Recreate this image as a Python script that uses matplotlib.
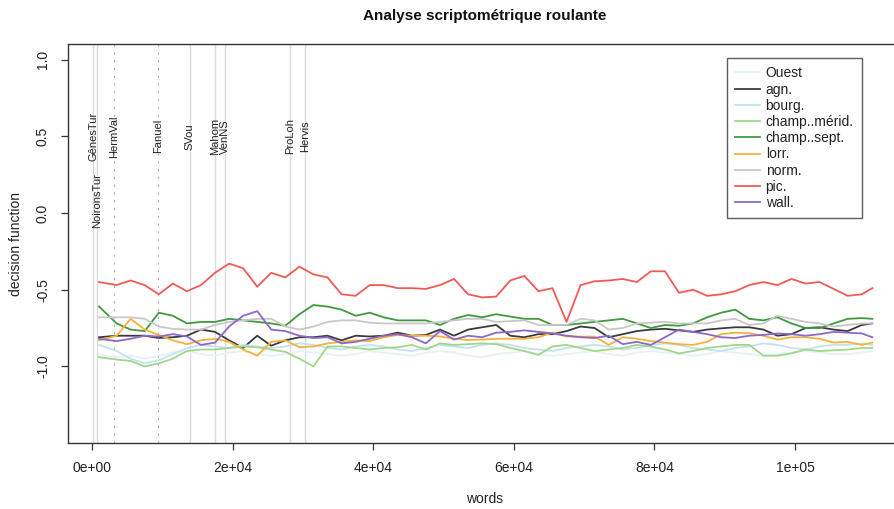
import matplotlib
matplotlib.use("Agg")
import matplotlib.pyplot as plt

plt.rcParams['font.family'] = ['Liberation Sans', 'DejaVu Sans']

words = [1000, 3500, 5500, 7500, 9500, 11500, 13500, 15500, 17500, 19500,
         21500, 23500, 25500, 27500, 29500, 31500, 33500, 35500, 37500, 39500,
         41500, 43500, 45500, 47500, 49500, 51500, 53500, 55500, 57500, 59500,
         61500, 63500, 65500, 67500, 69500, 71500, 73500, 75500, 77500, 79500,
         81500, 83500, 85500, 87500, 89500, 91500, 93500, 95500, 97500, 99500,
         101500, 103500, 105500, 107500, 109500, 111000]

ouest = [-0.92, -0.94, -0.93, -0.95, -0.93, -0.91, -0.90, -0.92, -0.93, -0.91,
         -0.90, -0.92, -0.93, -0.92, -0.90, -0.91, -0.92, -0.93, -0.92, -0.90,
         -0.91, -0.92, -0.93, -0.91, -0.90, -0.91, -0.93, -0.94, -0.92, -0.91,
         -0.90, -0.92, -0.93, -0.92, -0.91, -0.90, -0.92, -0.93, -0.91, -0.90,
         -0.91, -0.92, -0.93, -0.92, -0.90, -0.91, -0.92, -0.93, -0.92, -0.91,
         -0.90, -0.91, -0.92, -0.92, -0.91, -0.90]
agn = [-0.81, -0.80, -0.80, -0.80, -0.815, -0.81, -0.80, -0.76, -0.775, -0.83,
       -0.88, -0.80, -0.865, -0.83, -0.81, -0.81, -0.80, -0.83, -0.80, -0.805,
       -0.80, -0.78, -0.80, -0.795, -0.76, -0.80, -0.76, -0.745, -0.73, -0.80,
       -0.81, -0.79, -0.79, -0.77, -0.74, -0.75, -0.81, -0.79, -0.77, -0.76,
       -0.755, -0.765, -0.775, -0.76, -0.752, -0.745, -0.745, -0.76, -0.80, -0.79,
       -0.75, -0.745, -0.76, -0.77, -0.73, -0.72]
bourg = [-0.86, -0.90, -0.95, -0.98, -0.96, -0.92, -0.88, -0.86, -0.87, -0.88,
         -0.86, -0.87, -0.88, -0.87, -0.85, -0.86, -0.88, -0.89, -0.87, -0.86,
         -0.87, -0.89, -0.90, -0.88, -0.86, -0.87, -0.88, -0.86, -0.85, -0.86,
         -0.88, -0.89, -0.90, -0.88, -0.87, -0.86, -0.87, -0.89, -0.88, -0.86,
         -0.85, -0.86, -0.88, -0.89, -0.90, -0.88, -0.87, -0.85, -0.86, -0.88,
         -0.89, -0.87, -0.86, -0.86, -0.85, -0.86]
champ_merid = [-0.94, -0.955, -0.965, -1.0, -0.98, -0.95, -0.90, -0.89, -0.89, -0.88,
               -0.87, -0.875, -0.89, -0.905, -0.95, -1.0, -0.87, -0.87, -0.88, -0.89,
               -0.88, -0.875, -0.86, -0.89, -0.85, -0.86, -0.855, -0.85, -0.855, -0.88,
               -0.90, -0.925, -0.87, -0.86, -0.88, -0.90, -0.89, -0.88, -0.86, -0.87,
               -0.89, -0.915, -0.90, -0.88, -0.87, -0.86, -0.86, -0.93, -0.93, -0.915,
               -0.89, -0.90, -0.895, -0.89, -0.88, -0.88]
champ_sept = [-0.61, -0.72, -0.76, -0.77, -0.65, -0.67, -0.72, -0.71, -0.71, -0.69,
              -0.70, -0.71, -0.72, -0.735, -0.66, -0.60, -0.61, -0.63, -0.67, -0.65,
              -0.68, -0.70, -0.70, -0.70, -0.73, -0.69, -0.665, -0.68, -0.66, -0.675,
              -0.69, -0.69, -0.73, -0.73, -0.72, -0.71, -0.70, -0.69, -0.72, -0.75,
              -0.73, -0.735, -0.72, -0.68, -0.65, -0.63, -0.69, -0.70, -0.68, -0.72,
              -0.75, -0.75, -0.72, -0.69, -0.685, -0.69]
lorr = [-0.83, -0.80, -0.69, -0.76, -0.795, -0.83, -0.855, -0.83, -0.82, -0.84,
        -0.89, -0.93, -0.84, -0.83, -0.875, -0.87, -0.85, -0.84, -0.83, -0.835,
        -0.81, -0.795, -0.80, -0.80, -0.805, -0.82, -0.828, -0.825, -0.82, -0.82,
        -0.82, -0.81, -0.78, -0.805, -0.806, -0.806, -0.86, -0.81, -0.82, -0.835,
        -0.845, -0.855, -0.86, -0.84, -0.79, -0.78, -0.784, -0.80, -0.825, -0.81,
        -0.81, -0.82, -0.845, -0.84, -0.86, -0.845]
norm = [-0.68, -0.68, -0.68, -0.69, -0.74, -0.755, -0.76, -0.76, -0.73, -0.71,
        -0.70, -0.69, -0.69, -0.74, -0.76, -0.74, -0.71, -0.70, -0.70, -0.715,
        -0.72, -0.72, -0.72, -0.72, -0.71, -0.70, -0.69, -0.69, -0.71, -0.705,
        -0.70, -0.73, -0.73, -0.73, -0.69, -0.70, -0.76, -0.75, -0.72, -0.715,
        -0.71, -0.72, -0.72, -0.72, -0.70, -0.69, -0.73, -0.72, -0.67, -0.69,
        -0.71, -0.72, -0.74, -0.73, -0.72, -0.72]
pic = [-0.45, -0.47, -0.44, -0.47, -0.53, -0.46, -0.51, -0.47, -0.39, -0.33,
       -0.36, -0.48, -0.39, -0.42, -0.35, -0.40, -0.42, -0.53, -0.54, -0.47,
       -0.47, -0.49, -0.49, -0.495, -0.47, -0.43, -0.53, -0.55, -0.545, -0.44,
       -0.41, -0.51, -0.49, -0.71, -0.47, -0.445, -0.44, -0.43, -0.45, -0.38,
       -0.38, -0.52, -0.50, -0.54, -0.53, -0.51, -0.47, -0.45, -0.47, -0.43,
       -0.46, -0.45, -0.495, -0.54, -0.53, -0.49]
wall = [-0.82, -0.835, -0.82, -0.80, -0.805, -0.79, -0.805, -0.86, -0.845, -0.74,
        -0.67, -0.64, -0.76, -0.77, -0.80, -0.815, -0.81, -0.85, -0.84, -0.82,
        -0.80, -0.79, -0.81, -0.85, -0.77, -0.825, -0.80, -0.81, -0.78, -0.775,
        -0.765, -0.775, -0.785, -0.80, -0.81, -0.815, -0.80, -0.855, -0.84, -0.86,
        -0.81, -0.76, -0.775, -0.79, -0.81, -0.815, -0.80, -0.795, -0.785, -0.79,
        -0.80, -0.79, -0.775, -0.78, -0.785, -0.81]

series_names = ["Ouest", "agn.", "bourg.", "champ..mérid.", "champ..sept.",
                "lorr.", "norm.", "pic.", "wall."]
series_values = [ouest, agn, bourg, champ_merid, champ_sept, lorr, norm, pic, wall]
series_colors = ["#e6f2f8", "#3a3a3a", "#c4e2ee", "#9fd88a", "#3f9a3f",
                 "#f4b23c", "#c8c8c8", "#f25a55", "#8c68c8"]

marker_names = ["GênesTur", "NoironsTur", "HermVal", "Fanuel", "SVou",
                "Mahom", "VenNS", "ProLoh", "Hervis"]
marker_words = [200, 750, 3200, 9400, 13900, 17500, 18900, 28200, 30300]
marker_label_y = [0.5, 0.08, 0.5, 0.5, 0.5, 0.5, 0.5, 0.5, 0.5]
marker_dotted = [False, False, True, True, False, False, False, False, False]

xticks = [0, 20000, 40000, 60000, 80000, 100000]
xtick_labels = ["0e+00", "2e+04", "4e+04", "6e+04", "8e+04", "1e+05"]
yticks = [-1.0, -0.5, 0.0, 0.5, 1.0]
ytick_labels = ["-1.0", "-0.5", "0.0", "0.5", "1.0"]

W, H = 895, 509
AX_L, AX_R, AX_T, AX_B = 68, 902, 44, 443
fig = plt.figure(figsize=(W / 100, H / 100), dpi=100)
ax = fig.add_axes([AX_L / W, (H - AX_B) / H, (AX_R - AX_L) / W, (AX_B - AX_T) / H])

for xw, dotted in zip(marker_words, marker_dotted):
    if dotted:
        ax.axvline(xw, color="#b0b0b0", lw=0.8, linestyle=(0, (2, 5)), zorder=1)
    else:
        ax.axvline(xw, color="#dcdcdc", lw=1.0, zorder=1)
for xw, name, yy in zip(marker_words, marker_names, marker_label_y):
    ax.text(xw, yy, name, rotation=90, ha="center", va="center",
            fontsize=8, color="#222222", zorder=2)

for name, vals, col in zip(series_names, series_values, series_colors):
    ax.plot(words, vals, color=col, lw=1.3, label=name, zorder=3)

ax.set_xlim(-3414, 115222)
ax.set_ylim(-1.4994, 1.1017)
ax.spines["right"].set_visible(False)
for s in ["top", "left", "bottom"]:
    ax.spines[s].set_color("#333333")
    ax.spines[s].set_linewidth(1.0)

ax.set_xticks(xticks)
ax.set_xticklabels(xtick_labels)
ax.set_yticks(yticks)
ax.set_yticklabels(ytick_labels, rotation=90, va="center")
ax.tick_params(axis="both", direction="out", length=5, width=0.9,
               color="#333333", labelsize=10, labelcolor="#222222")
ax.tick_params(axis="x", pad=8)
ax.tick_params(axis="y", pad=8)

ax.set_xlabel("words", fontsize=10, color="#222222", labelpad=12)
ax.set_ylabel("decision function", fontsize=10, color="#222222", labelpad=9)
ax.set_title("Analyse scriptométrique roulante", fontsize=11, fontweight="bold",
             color="#111111", pad=17)

leg = ax.legend(loc="upper right",
                bbox_to_anchor=((862 - AX_L) / (AX_R - AX_L), (AX_B - 58) / (AX_B - AX_T)),
                frameon=True, fancybox=False, fontsize=10, handlelength=1.8,
                handletextpad=0.4, labelspacing=0.16, borderpad=0.6,
                borderaxespad=0)
leg.get_frame().set_edgecolor("#333333")
leg.get_frame().set_linewidth(1.0)
for t in leg.get_texts():
    t.set_color("#222222")

fig.savefig("out.png", dpi=100)
